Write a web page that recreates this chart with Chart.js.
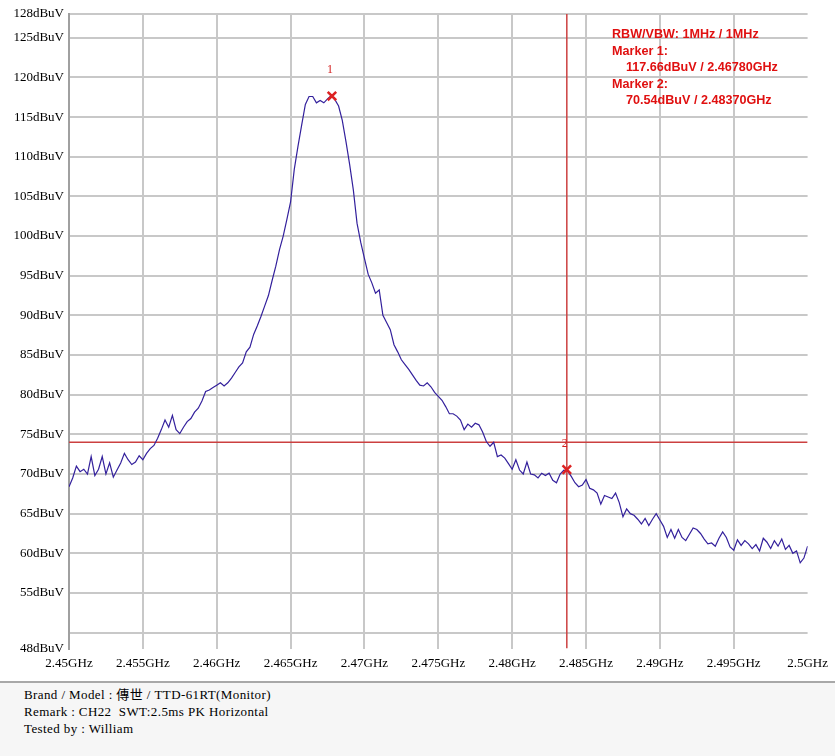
<!DOCTYPE html>
<html>
<head>
<meta charset="utf-8">
<script src="https://cdn.jsdelivr.net/npm/chart.js@4.4.0/dist/chart.umd.min.js"></script>
<style>
  body { margin: 0; background: #fff; }
  #wrap { position: relative; width: 835px; height: 683px; }
  #info {
    position: absolute; top: 681px; left: 0; width: 835px; height: 75px;
    border-top: 2px solid #a8a8a8; background: #f6f6f6; box-sizing: border-box;
    padding: 3px 0 0 24px; font: 13px "Liberation Serif", "Noto Sans CJK TC", serif;
    letter-spacing: 0.4px; line-height: 17px; color: #000;
  }
</style>
</head>
<body>
<div id="wrap"><canvas id="chart-spectrum" width="835" height="683"></canvas></div>
<div id="info">
  <div>Brand / Model : 傳世 / TTD-61RT(Monitor)</div>
  <div>Remark : CH22&nbsp; SWT:2.5ms PK Horizontal</div>
  <div>Tested by : William</div>
</div>
<script>
// sweep 2.45 - 2.5 GHz
var startGHz = 2.45, stopGHz = 2.5;
var levels = [
  68.4, 69.5, 71.0, 70.3, 70.6, 70.0, 72.2, 69.8, 70.6, 72.2,
  70.0, 71.4, 69.6, 70.5, 71.4, 72.6, 71.8, 71.2, 71.5, 72.3,
  71.8, 72.6, 73.2, 73.6, 74.5, 75.6, 76.8, 75.9, 77.4, 75.6,
  75.1, 75.9, 76.6, 77.0, 77.8, 78.3, 79.2, 80.4, 80.6, 80.9,
  81.2, 81.5, 81.1, 81.5, 82.1, 82.8, 83.5, 84.0, 85.4, 86.0,
  87.6, 88.7, 89.9, 91.2, 92.5, 94.4, 96.2, 98.3, 100.0, 102.1,
  104.3, 108.4, 111.3, 114.0, 116.6, 117.6, 117.6, 116.8, 117.1, 116.8,
  117.3, 117.7, 117.2, 116.4, 114.6, 111.9, 109.0, 105.8, 101.6, 99.2,
  97.2, 95.2, 94.1, 92.8, 93.2, 90.0, 89.1, 88.2, 86.3, 85.4,
  84.4, 83.8, 83.2, 82.5, 81.8, 81.2, 81.1, 81.5, 81.0, 80.3,
  79.8, 79.3, 78.5, 77.6, 77.6, 77.3, 76.8, 75.6, 76.3, 75.9,
  76.4, 76.2, 75.3, 74.1, 73.5, 74.0, 72.2, 72.4, 72.0, 71.3,
  70.6, 71.8, 70.5, 70.0, 71.5, 70.0, 69.9, 69.5, 70.1, 69.8,
  70.1, 69.2, 68.9, 70.0, 70.5, 70.4, 69.7, 68.9, 68.4, 68.6,
  69.3, 68.2, 68.0, 67.6, 66.2, 67.3, 67.1, 66.9, 67.6, 66.4,
  64.6, 65.6, 65.0, 64.8, 64.3, 63.7, 64.4, 63.5, 64.3, 65.0,
  64.2, 63.4, 62.0, 63.0, 61.9, 63.0, 62.0, 61.6, 62.4, 63.2,
  63.0, 62.5, 61.8, 61.2, 61.3, 60.9, 61.9, 62.7, 62.0, 60.8,
  60.4, 61.7, 61.0, 61.6, 61.2, 60.6, 61.1, 60.3, 61.9, 61.4,
  60.6, 61.6, 60.9, 61.8, 60.5, 61.0, 60.0, 60.3, 58.8, 59.4,
  60.9
];
var xTicks = [2.45, 2.455, 2.46, 2.465, 2.47, 2.475, 2.48, 2.485, 2.49, 2.495, 2.5];
var yTicks = [48, 50, 55, 60, 65, 70, 75, 80, 85, 90, 95, 100, 105, 110, 115, 120, 125, 128];
var displayLine = 74;
var markerFreqs = [2.4678, 2.4837];
var markerLevels = [117.66, 70.54];
var infoLines = [
  'RBW/VBW: 1MHz / 1MHz',
  'Marker 1:',
  '117.66dBuV / 2.46780GHz',
  'Marker 2:',
  '70.54dBuV / 2.48370GHz'
];

var trace = levels.map(function(v, i) {
  return { x: startGHz + i * (stopGHz - startGHz) / (levels.length - 1), y: v };
});

var redText = {
  id: 'redText',
  afterDatasetsDraw: function(chart) {
    var ctx = chart.ctx, x = chart.scales.x, y = chart.scales.y;
    ctx.save();
    ctx.fillStyle = '#d42020';
    ctx.font = '12px "Liberation Serif"';
    ctx.textAlign = 'center';
    ctx.textBaseline = 'middle';
    markerFreqs.forEach(function(f, i) {
      ctx.fillText(String(i + 1), x.getPixelForValue(f) - 2, y.getPixelForValue(markerLevels[i]) - 26);
    });
    ctx.fillStyle = '#e01010';
    ctx.font = 'bold 12.6px "Liberation Sans", Arial';
    ctx.textAlign = 'left';
    var ys = [35, 51.5, 68, 85, 100.5];
    var xs = [612, 612, 626, 612, 626];
    infoLines.forEach(function(t, i) {
      ctx.fillText(t, xs[i], ys[i]);
    });
    ctx.restore();
  }
};

new Chart('chart-spectrum', {
  type: 'line',
  data: {
    datasets: [
      {
        data: markerFreqs.map(function(f, i) { return { x: f, y: markerLevels[i] }; }),
        showLine: false, pointStyle: 'crossRot', pointRadius: 6,
        borderColor: '#dd2222', borderWidth: 2.5, order: 0
      },
      {
        data: trace, borderColor: '#33209c', borderWidth: 1.2,
        pointRadius: 0, tension: 0, order: 1
      },
      {
        data: [{ x: startGHz, y: displayLine }, { x: stopGHz, y: displayLine }],
        borderColor: '#cc4040', borderWidth: 1.5, pointRadius: 0, order: 2
      },
      {
        data: [{ x: markerFreqs[1], y: 48 }, { x: markerFreqs[1], y: 128 }],
        borderColor: '#cc4040', borderWidth: 1.5, pointRadius: 0, order: 2
      }
    ]
  },
  options: {
    responsive: false,
    animation: false,
    layout: { padding: { top: 14, right: 24, left: 0, bottom: 0 } },
    plugins: { legend: { display: false }, tooltip: { enabled: false } },
    scales: {
      x: {
        type: 'linear', min: startGHz, max: stopGHz,
        afterBuildTicks: function(s) { s.ticks = xTicks.map(function(v) { return { value: v }; }); },
        afterFit: function(s) { s.height = 34.5; },
        border: { display: false },
        grid: {
          drawTicks: false, lineWidth: 2,
          color: function(c) { return (c.tick && (c.tick.value === 2.5 || c.tick.value === 2.45)) ? 'rgba(0,0,0,0)' : '#c8c8c8'; }
        },
        ticks: {
          padding: 7, maxRotation: 0, autoSkip: false, color: '#000',
          font: { family: 'Liberation Serif', size: 13 },
          callback: function(v) { return parseFloat(v.toFixed(3)) + 'GHz'; }
        }
      },
      y: {
        type: 'linear', min: 48, max: 128,
        afterBuildTicks: function(s) { s.ticks = yTicks.map(function(v) { return { value: v }; }); },
        afterFit: function(s) { s.width = 69; },
        border: { display: true, color: '#a0a0a0', width: 2 },
        grid: {
          drawTicks: false, lineWidth: 2,
          color: function(c) { return (c.tick && c.tick.value === 48) ? 'rgba(0,0,0,0)' : '#c8c8c8'; }
        },
        ticks: {
          padding: 5, autoSkip: false, color: '#000',
          font: { family: 'Liberation Serif', size: 13 },
          callback: function(v) { return v === 50 ? '' : v + 'dBuV'; }
        }
      }
    }
  },
  plugins: [redText]
});
</script>
</body>
</html>
